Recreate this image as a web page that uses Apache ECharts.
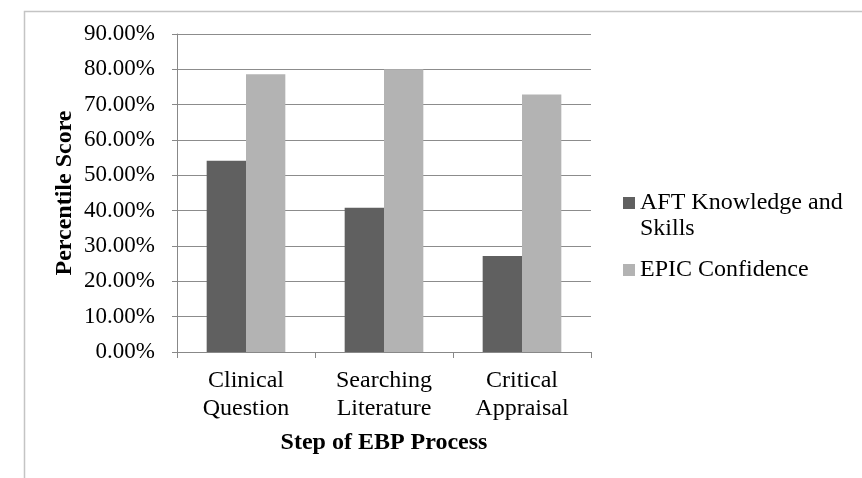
<!DOCTYPE html>
<html>
<head>
<meta charset="utf-8">
<script src="https://cdn.jsdelivr.net/npm/echarts@6/dist/echarts.min.js"></script>
<style>
  html, body { margin: 0; padding: 0; background: #fff; }
  #chart { width: 862px; height: 478px; }
</style>
</head>
<body>
<div id="chart"></div>
<script>
const categories = ['Clinical\nQuestion', 'Searching\nLiterature', 'Critical\nAppraisal'];
const aftKnowledge = [0.541, 0.408, 0.272];
const epicConfidence = [0.786, 0.80, 0.729];
const seriesNames = ['AFT Knowledge and Skills', 'EPIC Confidence'];

const font = 'Liberation Serif';
const chart = echarts.init(document.getElementById('chart'));

const option = {
  animation: false,
  textStyle: { fontFamily: font },
  graphic: [
    {
      type: 'polyline',
      shape: { points: [[24.5, 478], [24.5, 11.5], [862, 11.5]] },
      style: { stroke: '#c4c4c4', lineWidth: 1.5, fill: null }
    }
  ],
  grid: { left: 177, top: 34, width: 414, height: 318 },
  legend: {
    orient: 'vertical',
    left: 623,
    top: 164,
    padding: 0,
    itemWidth: 12,
    itemHeight: 12,
    itemGap: 15,
    icon: 'rect',
    data: seriesNames,
    // blank first line keeps the marker level with the first text line
    formatter: function (name) {
      return name === seriesNames[0] ? '\nAFT Knowledge and\nSkills' : name;
    },
    textStyle: { fontFamily: font, fontSize: 24, color: '#000', lineHeight: 26 }
  },
  xAxis: {
    type: 'category',
    data: categories,
    name: 'Step of EBP Process',
    nameLocation: 'middle',
    nameGap: 79,
    nameTextStyle: { fontFamily: font, fontSize: 24, fontWeight: 'bold', color: '#000' },
    axisLine: { lineStyle: { color: '#888' } },
    axisTick: { show: true, length: 6, lineStyle: { color: '#888' } },
    axisLabel: { fontFamily: font, fontSize: 24, color: '#000', lineHeight: 28, margin: 15 }
  },
  yAxis: {
    type: 'value',
    min: 0,
    max: 0.9,
    interval: 0.1,
    name: 'Percentile Score',
    nameLocation: 'middle',
    nameGap: 100,
    nameTextStyle: { fontFamily: font, fontSize: 24, fontWeight: 'bold', color: '#000' },
    axisLine: { show: true, lineStyle: { color: '#888' } },
    axisTick: { show: true, length: 5, lineStyle: { color: '#888' } },
    splitLine: { lineStyle: { color: '#8c8c8c' } },
    axisLabel: {
      fontFamily: font, fontSize: 23, color: '#000', margin: 22,
      formatter: function (v) { return (v * 100).toFixed(2) + '%'; }
    }
  },
  series: [
    {
      name: seriesNames[0],
      type: 'bar',
      data: aftKnowledge,
      barGap: '0%',
      barCategoryGap: '43%',
      itemStyle: { color: '#606060' }
    },
    {
      name: seriesNames[1],
      type: 'bar',
      data: epicConfidence,
      itemStyle: { color: '#b3b3b3' }
    }
  ]
};

chart.setOption(option);
</script>
</body>
</html>
